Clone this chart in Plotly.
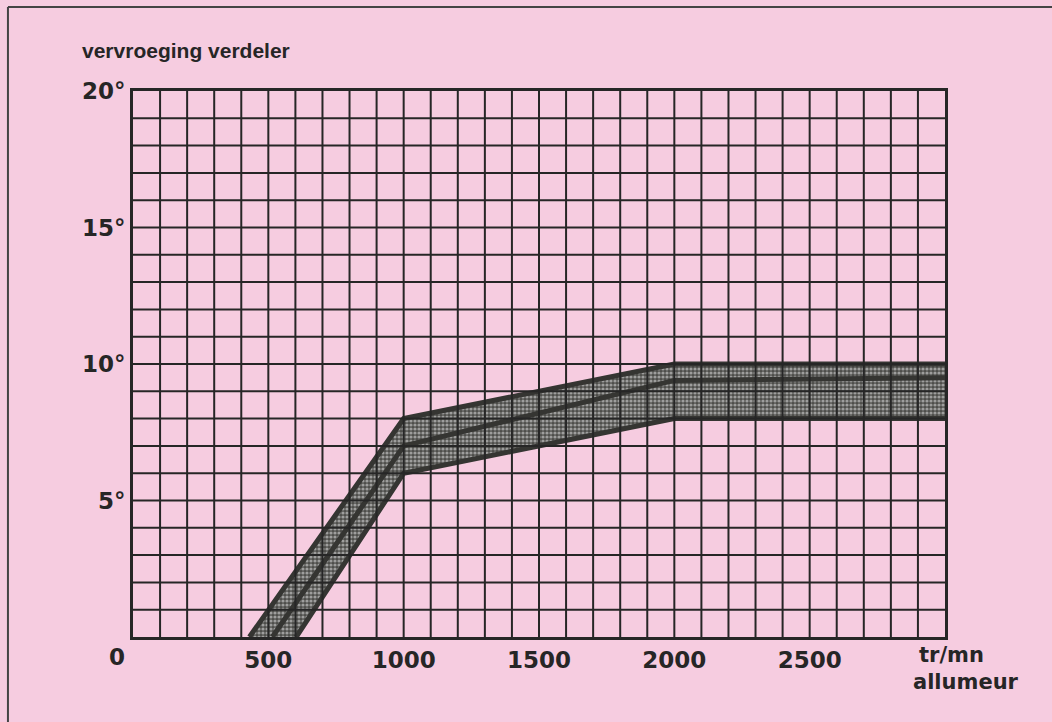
import plotly.graph_objects as go

# ---- data ----
rpm_upper = [430, 1000, 2000, 3000]
adv_upper = [0, 8.0, 10.0, 10.0]

rpm_middle = [515, 1000, 2000, 3000]
adv_middle = [0, 7.0, 9.4, 9.5]

rpm_lower = [603, 1000, 2000, 3000]
adv_lower = [0, 6.0, 8.0, 8.0]

x_ticks = [500, 1000, 1500, 2000, 2500]
x_ticktext = ["500", "1000", "1500", "2000", "2500"]
y_ticks = [5, 10, 15, 20]
y_ticktext = ["5°", "10°", "15°", "20°"]

x_grid = list(range(100, 3000, 100))
y_grid = list(range(1, 20, 1))

PINK = "#f6cce0"
INK = "#262626"
BAND = "#353532"

fig = go.Figure()

# stippled band
fig.add_trace(go.Scatter(
    x=rpm_upper + rpm_lower[::-1],
    y=adv_upper + adv_lower[::-1],
    mode="lines", fill="toself",
    fillcolor="rgba(0,0,0,0)",
    fillpattern=dict(shape=".", fgcolor="#f0f0f0", bgcolor="#4d4d4a",
                     size=4, solidity=0.5),
    line=dict(width=0), hoverinfo="skip",
))
for xs, ys in ((rpm_upper, adv_upper), (rpm_middle, adv_middle), (rpm_lower, adv_lower)):
    fig.add_trace(go.Scatter(x=xs, y=ys, mode="lines",
                             line=dict(color=BAND, width=5), hoverinfo="skip"))

shapes = []
for gx in x_grid:
    shapes.append(dict(type="line", xref="x", yref="y", x0=gx, x1=gx, y0=0, y1=20,
                       line=dict(color=INK, width=2), layer="above"))
for gy in y_grid:
    shapes.append(dict(type="line", xref="x", yref="y", x0=0, x1=3000, y0=gy, y1=gy,
                       line=dict(color=INK, width=2), layer="above"))
# page frame (top and left borders)
shapes.append(dict(type="line", xref="paper", yref="paper", x0=-0.154, x1=1.2,
                   y0=1.1538, y1=1.1538, line=dict(color="#444", width=2)))
shapes.append(dict(type="line", xref="paper", yref="paper", x0=-0.154, x1=-0.154,
                   y0=-0.2, y1=1.1538, line=dict(color="#444", width=2)))

tickfont = dict(family="DejaVu Sans", size=23, color=INK, weight="bold")

fig.update_layout(
    width=1052, height=722,
    margin=dict(l=133, r=107, t=91, b=85, pad=0),
    paper_bgcolor=PINK, plot_bgcolor=PINK,
    showlegend=False, hovermode=False,
    shapes=shapes,
    xaxis=dict(range=[0, 3000], showgrid=False, zeroline=False,
               tickvals=x_ticks, ticktext=x_ticktext, ticks="",
               showline=True, linecolor=INK, linewidth=3, mirror=True,
               tickfont=tickfont),
    yaxis=dict(range=[0, 20], showgrid=False, zeroline=False,
               tickvals=y_ticks, ticktext=y_ticktext, ticks="",
               showline=True, linecolor=INK, linewidth=3, mirror=True,
               tickfont=tickfont),
    annotations=[
        dict(text="vervroeging verdeler", xref="paper", yref="paper",
             x=-0.0653, y=1.075, xanchor="left", yanchor="middle", showarrow=False,
             font=dict(family="Liberation Sans", size=21, color=INK, weight="bold")),
        dict(text="0", xref="paper", yref="paper", x=-0.0197, y=-0.0366,
             xanchor="center", yanchor="middle", showarrow=False, font=tickfont),
        dict(text="tr/mn", xref="paper", yref="paper", x=1.0086, y=-0.033,
             xanchor="center", yanchor="middle", showarrow=False,
             font=dict(family="DejaVu Sans", size=21, color=INK, weight="bold")),
        dict(text="allumeur", xref="paper", yref="paper", x=1.026, y=-0.0824,
             xanchor="center", yanchor="middle", showarrow=False,
             font=dict(family="DejaVu Sans", size=21, color=INK, weight="bold")),
    ],
)

fig.write_html(
    "out.html",
    config={"displayModeBar": False, "staticPlot": True},
    post_script="document.body.style.margin='0';document.body.style.background='" + PINK + "';",
)
